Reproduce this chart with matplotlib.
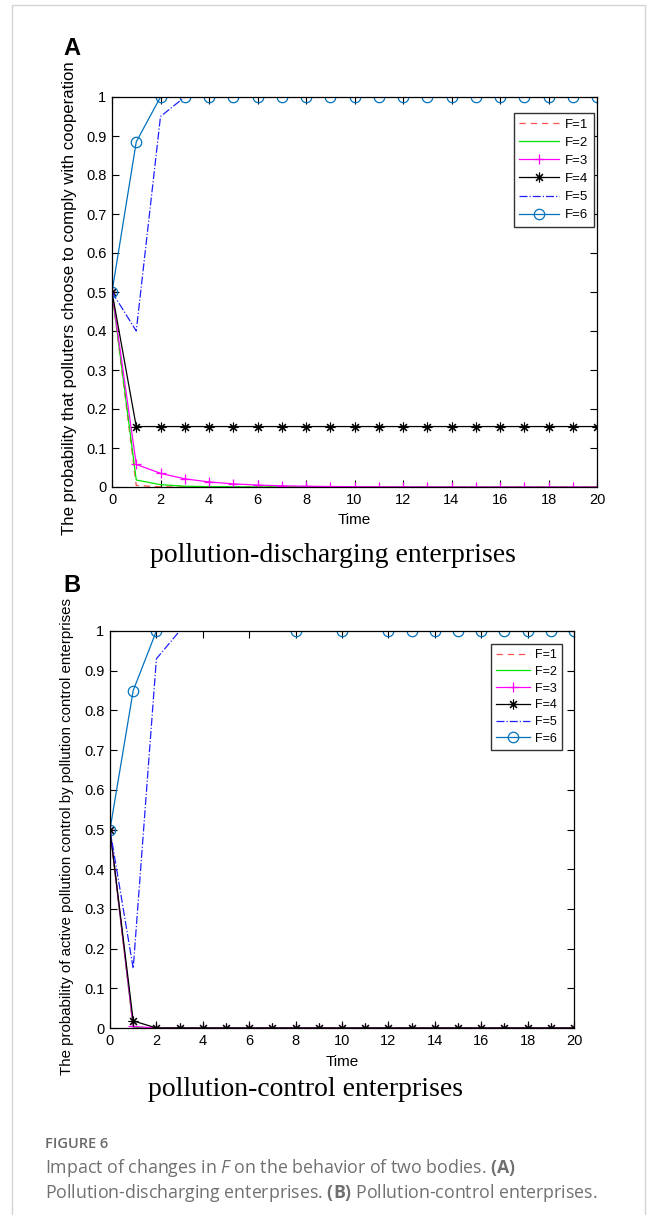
import matplotlib.pyplot as plt
import numpy as np
from matplotlib.patches import Rectangle

plt.rcParams['font.family'] = 'sans-serif'
plt.rcParams['font.sans-serif'] = ['Liberation Sans', 'Arial', 'DejaVu Sans']
plt.rcParams['mathtext.fontset'] = 'custom'
plt.rcParams['mathtext.rm'] = 'Open Sans'
plt.rcParams['mathtext.it'] = 'Open Sans:italic'
plt.rcParams['mathtext.bf'] = 'Open Sans:bold'

nan = np.nan
time = list(range(21))

# (A) pollution-discharging enterprises
a_f1 = [0.5, 0.004, 0.0005, 0, 0, 0, 0, 0, 0, 0, 0, 0, 0, 0, 0, 0, 0, 0, 0, 0, 0]
a_f2 = [0.5, 0.018, 0.006, 0.002, 0.001, 0.0005, 0.0002, 0.0001, 0, 0, 0, 0, 0, 0, 0, 0, 0, 0, 0, 0, 0]
a_f3 = [0.5, 0.058, 0.035, 0.021, 0.013, 0.008, 0.005, 0.003, 0.002, 0.0012, 0.0008,
        0.0005, 0.0003, 0.0002, 0.0001, 0.0001, 0, 0, 0, 0, 0]
a_f4 = [0.5] + [0.155] * 20
a_f5 = [0.5, 0.40, 0.95] + [1.0] * 18
a_f6 = [0.5, 0.885] + [1.0] * 19

# (B) pollution-control enterprises
b_f1 = [0.5, 0.001] + [0] * 19
b_f2 = [0.5, 0.002] + [0] * 19
b_f3 = [0.5, 0.004] + [0] * 19
b_f4 = [0.5, 0.018] + [0] * 19
b_f5 = [0.5, 0.15, 0.93] + [1.0] * 18
b_f6 = [0.5, 0.85, 1.0, nan, nan, nan, nan, nan, 1.0, nan, 1.0, nan] + [1.0] * 9

labels = ['F=1', 'F=2', 'F=3', 'F=4', 'F=5', 'F=6']

W, H = 656, 1215
fig = plt.figure(figsize=(W / 100, H / 100), dpi=100)


def fx(px):
    return px / W


def fy(py):
    return 1 - py / H


def draw_panel(ax, series, ylabel, ylabel_size, ylabel_x, ylabel_y):
    f1, f2, f3, f4, f5, f6 = series
    lw = 0.9
    ax.plot(time, f1, color='#ff5050', linestyle=(0, (5, 4)), lw=lw, label=labels[0])
    ax.plot(time, f2, color='#00e600', lw=lw, label=labels[1])
    ax.plot(time, f3, color='#ff00ff', lw=lw, marker='+', markersize=7, mew=0.9, label=labels[2])
    ax.plot(time, f4, color='black', lw=lw, marker=(8, 2, 0), markersize=7, mew=0.8, label=labels[3])
    ax.plot(time, f5, color='#2020ff', linestyle='-.', lw=lw, label=labels[4])
    ax.plot(time, f6, color='#0072BD', lw=lw, marker='o', markersize=7.5, mfc='none', mew=0.9, label=labels[5])
    ax.set_xlim(0, 20)
    ax.set_ylim(0, 1)
    ax.set_xticks(np.arange(0, 21, 2))
    yt = np.round(np.arange(0, 1.01, 0.1), 1)
    ax.set_yticks(yt)
    ax.set_yticklabels(['0' if v == 0 else ('1' if v == 1 else f'{v:.1f}') for v in yt])
    ax.tick_params(direction='in', top=True, right=True, length=5, width=0.8, labelsize=10.5, pad=4)
    for s in ax.spines.values():
        s.set_linewidth(0.9)
    ax.set_xlabel('Time', fontsize=11, labelpad=5)
    ax.set_ylabel(ylabel, fontsize=ylabel_size, va='center')
    ax.yaxis.set_label_coords(ylabel_x, ylabel_y)


# panel A
ax1 = fig.add_axes([fx(112), fy(487), fx(597) - fx(112), fy(97) - fy(487)])
draw_panel(ax1, [a_f1, a_f2, a_f3, a_f4, a_f5, a_f6],
           'The probability that polluters choose to comply with cooperation', 12.1, -0.087, 0.485)
ax1.legend(loc='upper right', bbox_to_anchor=(fx(594), fy(113)), bbox_transform=fig.transFigure,
           fontsize=9.5, frameon=True, fancybox=False, edgecolor='#333333', framealpha=1,
           handlelength=3.0, labelspacing=0.45, borderpad=0.4, handletextpad=0.5,
           borderaxespad=0)

# panel B
ax2 = fig.add_axes([fx(110), fy(1028), fx(574) - fx(110), fy(631) - fy(1028)])
draw_panel(ax2, [b_f1, b_f2, b_f3, b_f4, b_f5, b_f6],
           'The probability of active pollution control by pollution control enterprises', 10.8, -0.092, 0.482)
ax2.legend(loc='upper right', bbox_to_anchor=(fx(562), fy(644)), bbox_transform=fig.transFigure,
           fontsize=9, frameon=True, fancybox=False, edgecolor='#333333', framealpha=1,
           handlelength=2.7, labelspacing=0.38, borderpad=0.4, handletextpad=0.4,
           borderaxespad=0)

# panel letters and subtitles
fig.text(fx(63), fy(55), 'A', fontsize=17, fontweight='bold', ha='left', va='baseline')
fig.text(fx(63), fy(592), 'B', fontsize=17, fontweight='bold', ha='left', va='baseline')
fig.text(fx(333), fy(556), 'pollution-discharging enterprises', family='Liberation Serif',
         fontsize=20, ha='center', va='center')
fig.text(fx(305), fy(1090), 'pollution-control enterprises', family='Liberation Serif',
         fontsize=20, ha='center', va='center')

# caption
fig.text(fx(45), fy(1144), 'FIGURE 6', family='Open Sans', fontsize=10.5, fontweight='semibold',
         color='#6a6a6a', va='center')
fig.text(fx(45), fy(1168), r'Impact of changes in $\mathit{F}$ on the behavior of two bodies. $\mathbf{(A)}$',
         family='Open Sans', fontsize=12.8, color='#707070', va='center')
fig.text(fx(45), fy(1193), r'Pollution-discharging enterprises. $\mathbf{(B)}$ Pollution-control enterprises.',
         family='Open Sans', fontsize=12.8, color='#707070', va='center')

# page frame
fig.patches.append(Rectangle((fx(12), -0.01), fx(645) - fx(12), fy(5) + 0.01,
                             transform=fig.transFigure, fill=False, edgecolor='#d4d4d4', lw=1))

plt.savefig('out.png', dpi=100)
plt.close()
